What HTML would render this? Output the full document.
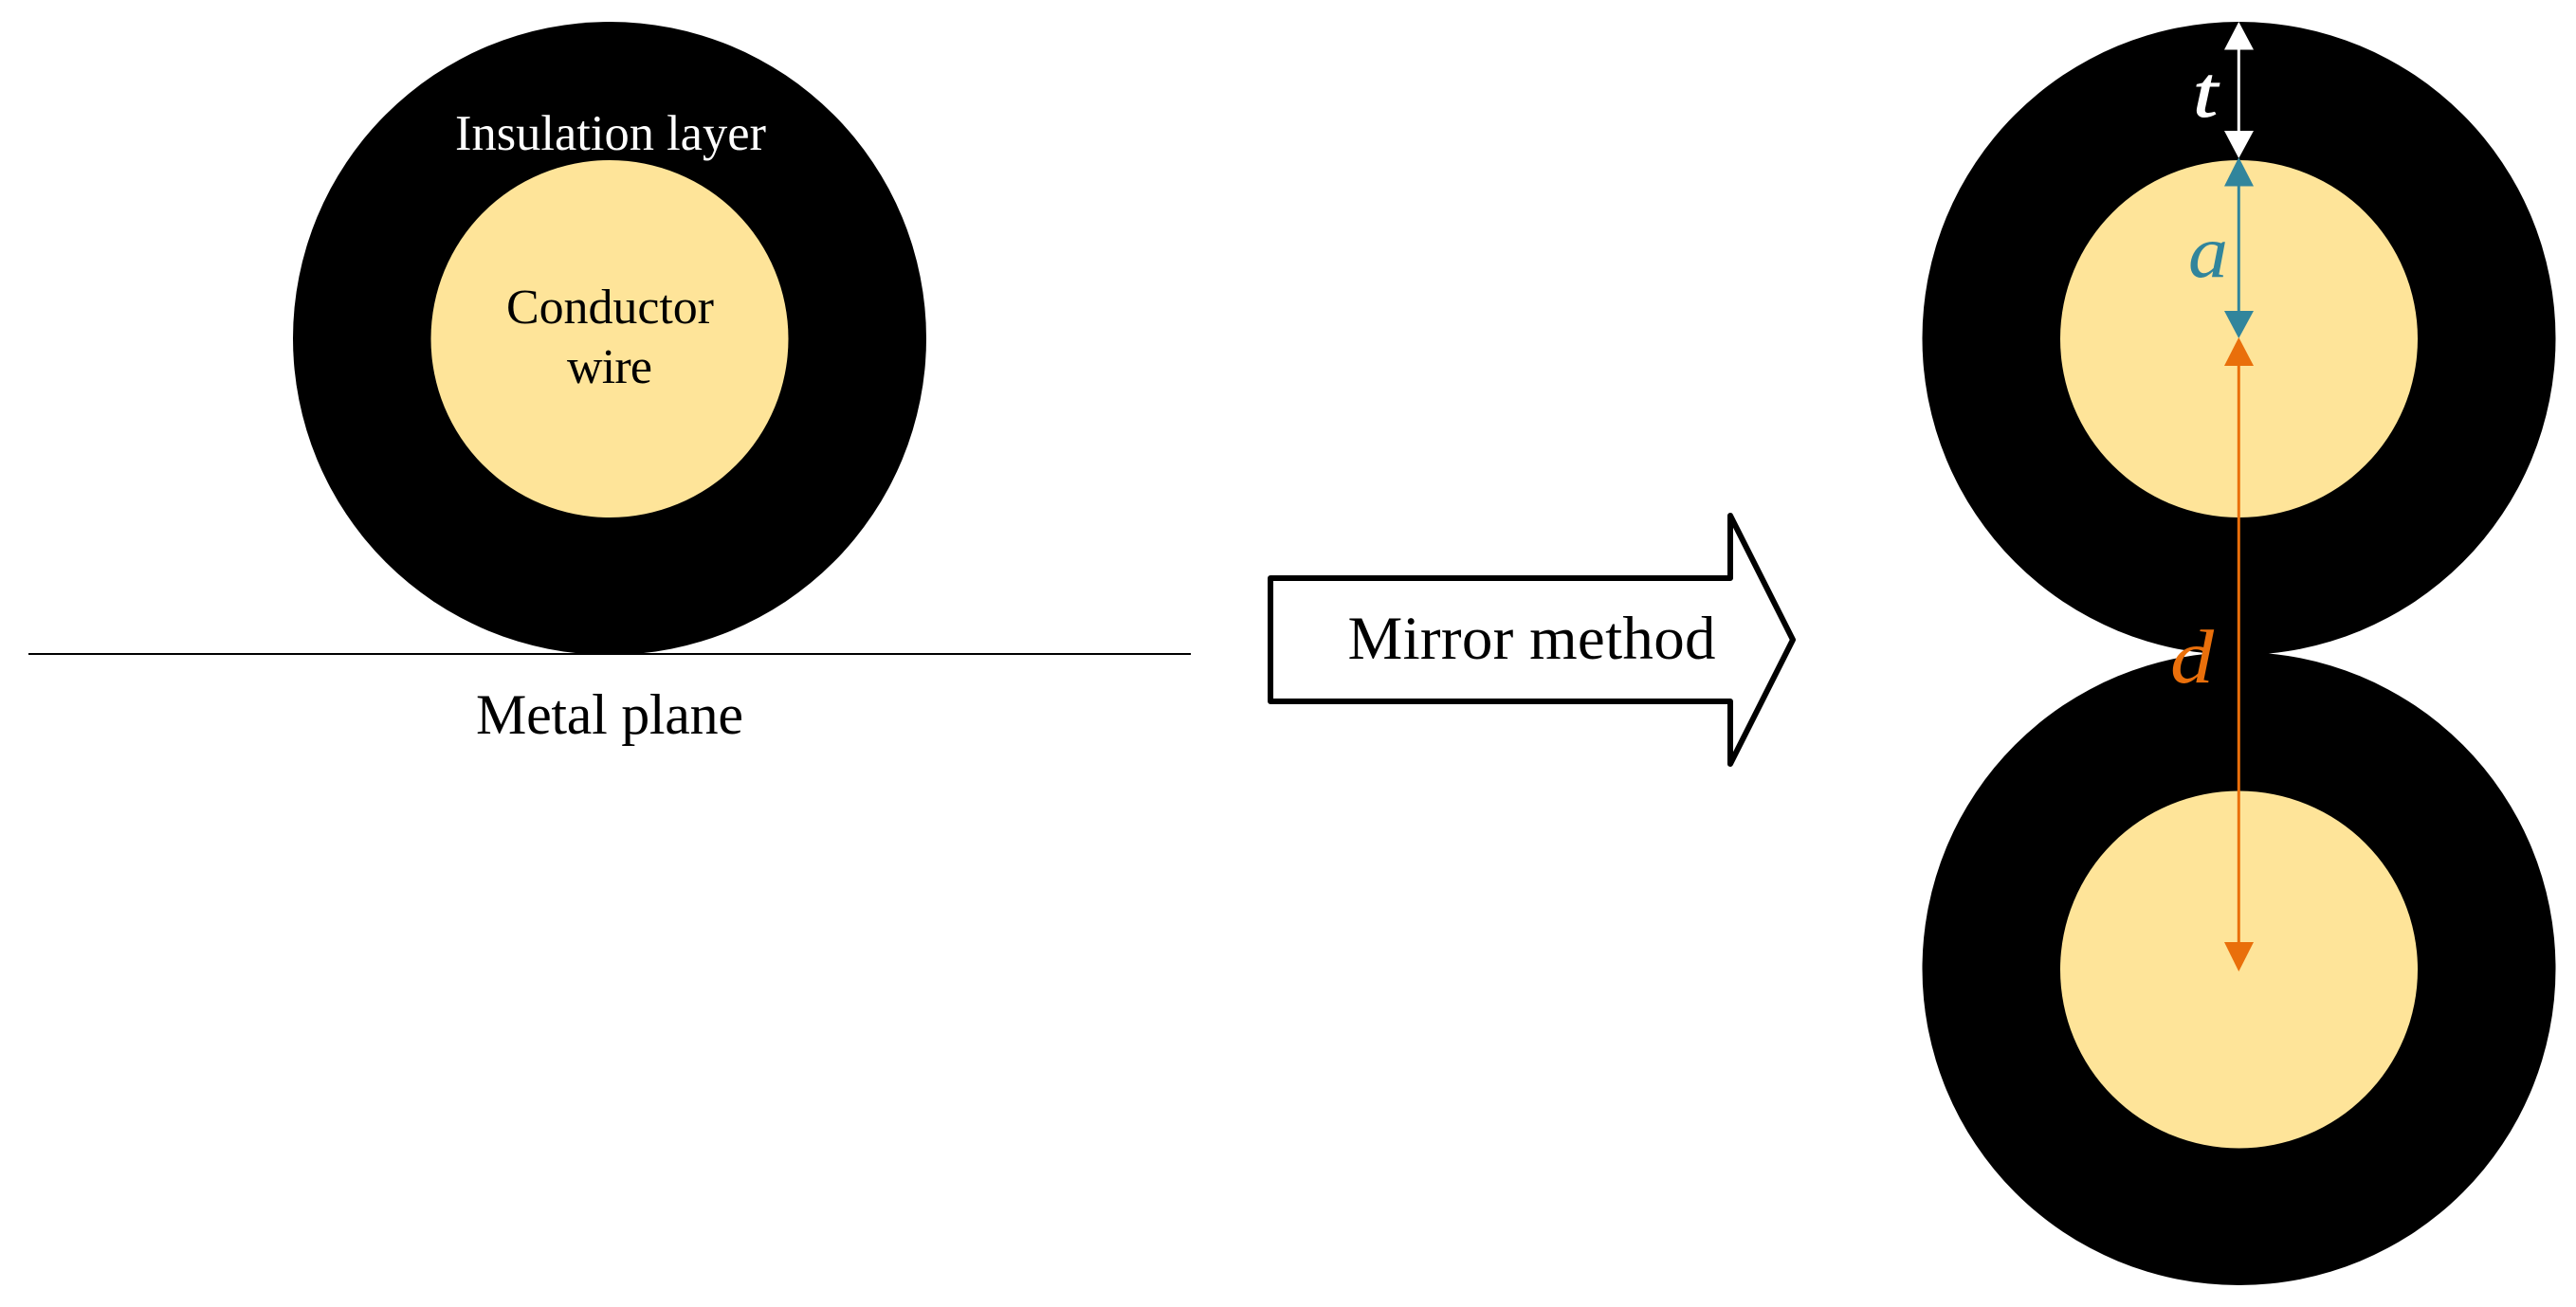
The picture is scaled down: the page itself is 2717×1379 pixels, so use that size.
<!DOCTYPE html>
<html><head><meta charset="utf-8"><style>
html,body{margin:0;padding:0;background:#fff}
svg{display:block}
text{font-family:"Liberation Serif",serif}
</style></head><body>
<svg width="2717" height="1379" viewBox="0 0 2717 1379" xmlns="http://www.w3.org/2000/svg">
<rect width="2717" height="1379" fill="#fff"/>
<!-- left -->
<circle cx="643" cy="357" r="334" fill="#000"/>
<circle cx="643" cy="357.500" r="188.500" fill="#FEE499"/>
<rect x="30" y="689" width="1226" height="2" fill="#000"/>
<text x="480" y="158" font-size="52.500" fill="#fff" textLength="328">Insulation layer</text>
<text x="534" y="341" font-size="52" fill="#000" textLength="219">Conductor</text>
<text x="598" y="404" font-size="52" fill="#000" textLength="90">wire</text>
<text x="502" y="774" font-size="60" fill="#000" textLength="282">Metal plane</text>
<!-- arrow -->
<polygon points="1340,610 1825,610 1825,544 1891,675 1825,806 1825,740 1340,740" fill="#fff" stroke="#000" stroke-width="6" stroke-linejoin="round"/>
<text x="1421.500" y="695" font-size="65" fill="#000" textLength="388">Mirror method</text>
<!-- right -->
<circle cx="2361.500" cy="357" r="334" fill="#000"/>
<circle cx="2361.500" cy="1022" r="334" fill="#000"/>
<circle cx="2361.500" cy="357.500" r="188.500" fill="#FEE499"/>
<circle cx="2361.500" cy="1023" r="188.500" fill="#FEE499"/>
<!-- white t -->
<rect x="2359.800" y="50" width="3" height="90" fill="#fff"/>
<polygon points="2361.300,23 2377,52.500 2346,52.500" fill="#fff"/>
<polygon points="2361.300,167 2377,138 2346,138" fill="#fff"/>
<!-- teal a -->
<rect x="2359.800" y="194" width="3" height="136" fill="#31859C"/>
<polygon points="2361.300,166 2377,196.500 2346,196.500" fill="#31859C"/>
<polygon points="2361.300,357 2377,328 2346,328" fill="#31859C"/>
<!-- orange d -->
<rect x="2359.800" y="384" width="3" height="612" fill="#E96F0B"/>
<polygon points="2361.300,356 2377,386 2346,386" fill="#E96F0B"/>
<polygon points="2361.300,1025 2377,994 2346,994" fill="#E96F0B"/>
<text x="2313" y="123" font-size="76" font-style="italic" fill="#fff" stroke="#fff" stroke-width="1" textLength="26" lengthAdjust="spacingAndGlyphs">t</text>
<text x="2308" y="292" font-size="78" font-style="italic" fill="#31859C" textLength="42" lengthAdjust="spacingAndGlyphs">a</text>
<text x="2289" y="720" font-size="80" font-style="italic" fill="#E96F0B" textLength="46" lengthAdjust="spacingAndGlyphs">d</text>
</svg>
</body></html>
